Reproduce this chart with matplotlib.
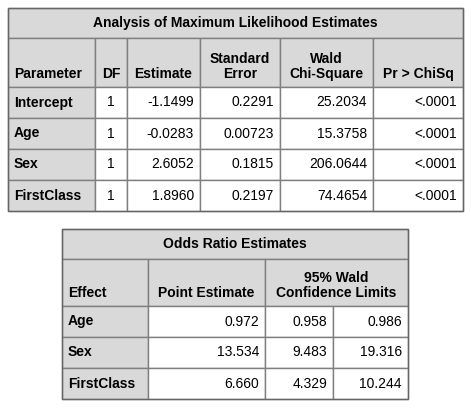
import matplotlib.pyplot as plt
from matplotlib.patches import Rectangle

plt.rcParams['font.family'] = ['Liberation Sans', 'DejaVu Sans']

params = ['Intercept', 'Age', 'Sex', 'FirstClass']
df = ['1', '1', '1', '1']
estimate = ['-1.1499', '-0.0283', '2.6052', '1.8960']
stderr = ['0.2291', '0.00723', '0.1815', '0.2197']
waldchi = ['25.2034', '15.3758', '206.0644', '74.4654']
pval = ['<.0001', '<.0001', '<.0001', '<.0001']

effects = ['Age', 'Sex', 'FirstClass']
point_est = ['0.972', '13.534', '6.660']
lower = ['0.958', '9.483', '4.329']
upper = ['0.986', '19.316', '10.244']

HDR = '#d9d9d9'
EDGE = '#7f7f7f'
FS = 10

fig = plt.figure(figsize=(4.71, 4.08), dpi=100)
ax = fig.add_axes([0, 0, 1, 1])
ax.set_xlim(0, 471)
ax.set_ylim(408, 0)
ax.axis('off')


def cell(x0, x1, y0, y1, text, bg='white', bold=False, ha='center', va='center'):
    ax.add_patch(Rectangle((x0, y0), x1 - x0, y1 - y0, facecolor=bg, edgecolor=EDGE, lw=1))
    if ha == 'left':
        tx = x0 + 6
    elif ha == 'right':
        tx = x1 - 6
    else:
        tx = (x0 + x1) / 2
    ty = (y0 + y1) / 2 if va == 'center' else y1 - 9
    ax.text(tx, ty, text, ha=ha, va='center' if va == 'center' else 'baseline',
            fontsize=FS, fontweight='bold' if bold else 'normal', linespacing=1.05)


# table 1
cols = [8, 95, 127, 200, 280, 373, 463]
cell(cols[0], cols[-1], 8, 38, 'Analysis of Maximum Likelihood Estimates', HDR, True)
heads = ['Parameter', 'DF', 'Estimate', 'Standard\nError', 'Wald\nChi-Square', 'Pr > ChiSq']
for i, h in enumerate(heads):
    cell(cols[i], cols[i + 1], 38, 87, h, HDR, True, ha='left' if i == 0 else 'center', va='bottom')
rows = [87, 118, 149, 180, 211]
for r in range(len(params)):
    y0, y1 = rows[r], rows[r + 1]
    cell(cols[0], cols[1], y0, y1, params[r], HDR, True, ha='left')
    cell(cols[1], cols[2], y0, y1, df[r])
    cell(cols[2], cols[3], y0, y1, estimate[r], ha='right')
    cell(cols[3], cols[4], y0, y1, stderr[r], ha='right')
    cell(cols[4], cols[5], y0, y1, waldchi[r], ha='right')
    cell(cols[5], cols[6], y0, y1, pval[r], ha='right')
ax.add_patch(Rectangle((cols[0], 8), cols[-1] - cols[0], 211 - 8, fill=False, edgecolor='#666666', lw=1))

# table 2
c2 = [62, 148, 265, 333, 408]
cell(c2[0], c2[-1], 229, 259, 'Odds Ratio Estimates', HDR, True)
cell(c2[0], c2[1], 259, 306, 'Effect', HDR, True, ha='left', va='bottom')
cell(c2[1], c2[2], 259, 306, 'Point Estimate', HDR, True, va='bottom')
cell(c2[2], c2[4], 259, 306, '95% Wald\nConfidence Limits', HDR, True, va='bottom')
rows2 = [306, 337, 368, 399]
for r in range(len(effects)):
    y0, y1 = rows2[r], rows2[r + 1]
    cell(c2[0], c2[1], y0, y1, effects[r], HDR, True, ha='left')
    cell(c2[1], c2[2], y0, y1, point_est[r], ha='right')
    cell(c2[2], c2[3], y0, y1, lower[r], ha='right')
    cell(c2[3], c2[4], y0, y1, upper[r], ha='right')
ax.add_patch(Rectangle((c2[0], 229), c2[-1] - c2[0], 399 - 229, fill=False, edgecolor='#666666', lw=1))

fig.savefig('out.png', dpi=100)
